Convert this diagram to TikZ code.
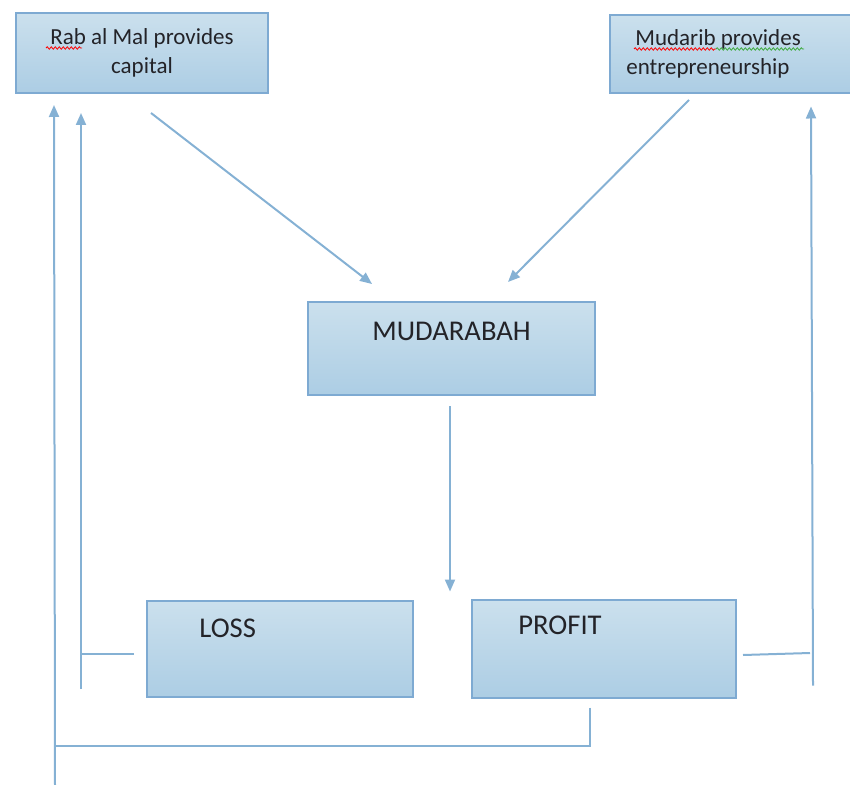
\documentclass[tikz,border=0pt]{standalone}
\usepackage{fontspec}
\setmainfont{Carlito}
\usepackage{xcolor}
\usetikzlibrary{arrows.meta,positioning,calc,decorations.pathmorphing}

\definecolor{boxline}{RGB}{126,170,210}
\definecolor{boxtop}{RGB}{203,224,237}
\definecolor{boxbot}{RGB}{172,205,228}
\definecolor{linkcol}{RGB}{133,177,212}
\definecolor{txtcol}{RGB}{35,35,40}
\definecolor{spellgreen}{RGB}{60,170,60}

\tikzset{
  box/.style={draw=boxline, line width=1pt, top color=boxtop, bottom color=boxbot, inner sep=0pt},
  txt/.style={inner sep=0pt, text=txtcol, font=\fontsize{14.3}{17}\selectfont},
  smalltxt/.style={text=txtcol, font=\fontsize{11.5}{14.5}\selectfont},
  link/.style={draw=linkcol, line width=1pt},
  arr/.style={link, -{Triangle[length=6pt,width=5pt]}},
  squiggle/.style={line width=0.4pt, decorate, decoration={snake, amplitude=0.6pt, segment length=2pt}}
}

\begin{document}
\begin{tikzpicture}[x=0.5pt,y=-0.5pt]
\useasboundingbox (0,0) rectangle (850,785);
\clip (0,0) rectangle (850,785);
% nodes
\node[box, minimum width=126pt, minimum height=40pt, smalltxt, align=center] (rab) at (142,53) {Rab al Mal provides\\capital};
\node[box, minimum width=123pt, minimum height=39pt] (mudarib) at (733,54) {};
\node[smalltxt, inner sep=0pt, align=left, below right=7.5pt and 8.5pt of mudarib.north west] (mudtxt) {\hspace*{4.5pt}Mudarib provides\\entrepreneurship};
\node[box, minimum width=143.5pt, minimum height=46.5pt] (mud) at (451.5,349) {};
\node[txt, below=10pt of mud.north] (mudlbl) {MUDARABAH};
\node[box, minimum width=133pt, minimum height=48pt] (loss) at (280,649) {};
\node[txt, below right=9.5pt and 26.5pt of loss.north west] (losslbl) {LOSS};
\node[box, minimum width=132pt, minimum height=49pt] (profit) at (604,649) {};
\node[txt, below right=8.5pt and 23.5pt of profit.north west] (profitlbl) {PROFIT};
\coordinate (outerjoin) at (55,746);
\coordinate (outer) at (55,785);

% spelling marks
\draw[squiggle, red] ($(rab.north west)+(31,36)$) -- ($(rab.north west)+(67,36)$);
\draw[squiggle, red] ($(mudarib.north west)+(25,35)$) -- ($(mudarib.north west)+(107,35)$);
\draw[squiggle, spellgreen] ($(mudarib.north west)+(107,35)$) -- ($(mudarib.north west)+(195,35)$);

% edges
\draw[arr] ($(rab.south)+(9,19)$) -- ($(mud.north)+(-79.5,-17.5)$);
\draw[arr] ($(mudarib.south)+(-44,6)$) -- ($(mud.north)+(56.5,-19.5)$);
\draw[arr] ($(mud.south)+(-1.5,10)$) -- ($(mud.south)+(-1.5,195)$);

% loss back to Rab al Mal
\draw[link] ($(loss.west)+(-12,5)$) -- ($(loss.west)+(-65,5)$);
\draw[arr] ($(loss.south west)+(-65,-9)$) -- ($(rab.south west)+(66,19)$);

% profit back to both
\draw[link] ($(profit.south)+(-14,8.5)$) |- (outerjoin);
\draw[arr] (outer) -- ($(rab.south west)+(39,11)$);
\draw[link] ($(profit.east)+(6,6)$) -- ($(profit.east)+(73,4)$);
\draw[arr] ($(profit.south east)+(76,-13.5)$) -- ($(mudarib.south)+(78,12.5)$);
\end{tikzpicture}
\end{document}
